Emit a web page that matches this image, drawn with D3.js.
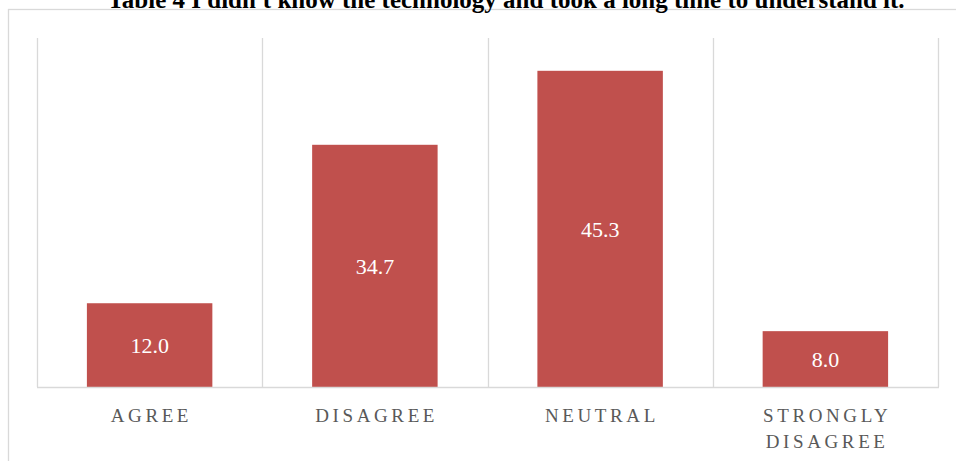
<!DOCTYPE html>
<html>
<head>
<meta charset="utf-8">
<script src="https://cdn.jsdelivr.net/npm/d3@7"></script>
<style>
  html, body { margin: 0; padding: 0; background: #fff; }
  svg { display: block; }
</style>
</head>
<body>
<svg id="chart" width="956" height="461"></svg>
<script>
const titleText = "Table 4 I didn't know the technology and took a long time to understand it.";
const categories = ["AGREE", "DISAGREE", "NEUTRAL", "STRONGLY DISAGREE"];
const categoryLines = [["AGREE"], ["DISAGREE"], ["NEUTRAL"], ["STRONGLY", "DISAGREE"]];
const values = [12.0, 34.7, 45.3, 8.0];
const yDomain = [0, 50];

const svg = d3.select("#chart");
const plot = { left: 37, right: 938, top: 38, bottom: 387 };

// outer chart border (top and left visible)
svg.append("rect")
  .attr("x", 8.5).attr("y", 9.5)
  .attr("width", 1000).attr("height", 1000)
  .attr("fill", "none").attr("stroke", "#D9D9D9").attr("stroke-width", 1.3);

// title (clipped at top, as in the reference)
svg.append("text")
  .attr("x", 506).attr("y", 8)
  .attr("text-anchor", "middle")
  .attr("font-family", "'Liberation Serif', 'Times New Roman', serif")
  .attr("font-weight", "bold")
  .attr("font-size", 25)
  .attr("fill", "#000")
  .text(titleText);

const x = d3.scaleBand()
  .domain(categories)
  .range([plot.left, plot.right])
  .paddingInner(0.443)
  .paddingOuter(0.2215);

const y = d3.scaleLinear().domain(yDomain).range([plot.bottom, plot.top]);

// vertical gridlines at category boundaries
const bounds = d3.range(categories.length + 1).map(i => plot.left + i * (plot.right - plot.left) / categories.length);
svg.append("g").selectAll("line")
  .data(bounds)
  .join("line")
  .attr("x1", d => Math.round(d) + 0.5).attr("x2", d => Math.round(d) + 0.5)
  .attr("y1", plot.top).attr("y2", plot.bottom)
  .attr("stroke", "#D9D9D9").attr("stroke-width", 1.3);

// bars
svg.append("g").selectAll("rect")
  .data(values)
  .join("rect")
  .attr("x", (d, i) => x(categories[i]))
  .attr("y", d => y(d))
  .attr("width", x.bandwidth())
  .attr("height", d => y(0) - y(d))
  .attr("fill", "#C0504D");

// bottom axis line
svg.append("line")
  .attr("x1", plot.left).attr("x2", plot.right + 1)
  .attr("y1", plot.bottom + 0.5).attr("y2", plot.bottom + 0.5)
  .attr("stroke", "#D9D9D9").attr("stroke-width", 1.5);

// data labels
svg.append("g").selectAll("text")
  .data(values)
  .join("text")
  .attr("x", (d, i) => x(categories[i]) + x.bandwidth() / 2)
  .attr("y", d => (y(d) + y(0)) / 2)
  .attr("dy", "0.35em")
  .attr("text-anchor", "middle")
  .attr("font-family", "'Liberation Serif', 'Times New Roman', serif")
  .attr("font-size", 22)
  .attr("fill", "#fff")
  .text(d => d.toFixed(1));

// category labels
const ls = 3.6;
const catG = svg.append("g");
categoryLines.forEach((lines, i) => {
  const cx = x(categories[i]) + x.bandwidth() / 2;
  const t = catG.append("text")
    .attr("text-anchor", "middle")
    .attr("font-family", "'Liberation Serif', 'Times New Roman', serif")
    .attr("font-size", 19)
    .attr("letter-spacing", ls)
    .attr("fill", "#595959");
  lines.forEach((ln, j) => {
    t.append("tspan")
      .attr("x", cx + ls / 2)
      .attr("y", 422 + j * 26)
      .text(ln);
  });
});
</script>
</body>
</html>
